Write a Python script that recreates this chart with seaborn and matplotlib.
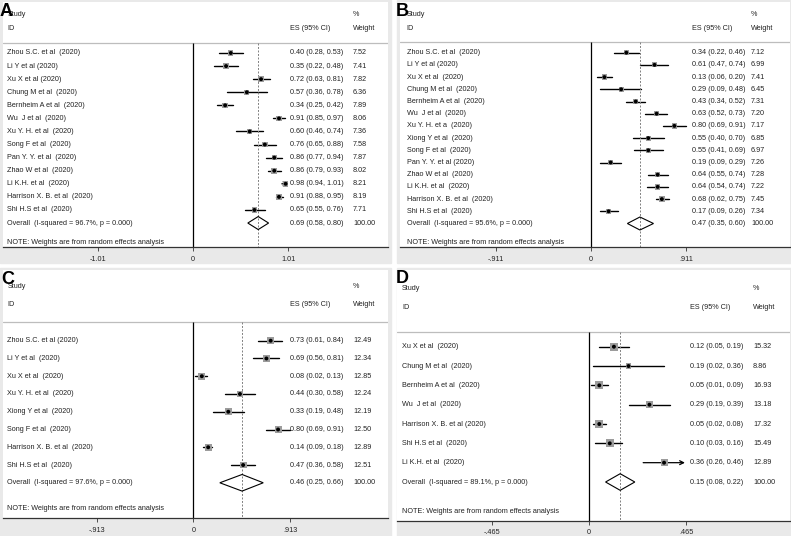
import numpy as np
import pandas as pd
import matplotlib
matplotlib.use("Agg")
import matplotlib.pyplot as plt
import matplotlib.transforms as mtransforms
from matplotlib.patches import Rectangle, Polygon
import seaborn as sns

# --- Panel A data ---
a_names = ["Zhou S.C. et al  (2020)", "Li Y et al (2020)", "Xu X et al (2020)",
           "Chung M et al  (2020)", "Bernheim A et al  (2020)", "Wu  J et al  (2020)",
           "Xu Y. H. et al  (2020)", "Song F et al  (2020)", "Pan Y. Y. et al  (2020)",
           "Zhao W et al  (2020)", "Li K.H. et al  (2020)", "Harrison X. B. et al  (2020)",
           "Shi H.S et al  (2020)"]
a_es = [0.40, 0.35, 0.72, 0.57, 0.34, 0.91, 0.60, 0.76, 0.86, 0.86, 0.98, 0.91, 0.65]
a_lo = [0.28, 0.22, 0.63, 0.36, 0.25, 0.85, 0.46, 0.65, 0.77, 0.79, 0.94, 0.88, 0.55]
a_hi = [0.53, 0.48, 0.81, 0.78, 0.42, 0.97, 0.74, 0.88, 0.94, 0.93, 1.01, 0.95, 0.76]
a_wt = [7.52, 7.41, 7.82, 6.36, 7.89, 8.06, 7.36, 7.58, 7.87, 8.02, 8.21, 8.19, 7.71]
a_arrow = [False] * 10 + [True, False, False]
a_overall = (0.69, 0.58, 0.80)
a_i2 = "96.7%"
a_ticks = ["-1.01", "0", "1.01"]
a_tick = 1.01

# --- Panel B data ---
b_names = ["Zhou S.C. et al  (2020)", "Li Y et al (2020)", "Xu X et al  (2020)",
           "Chung M et al  (2020)", "Bernheim A et al  (2020)", "Wu  J et al  (2020)",
           "Xu Y. H. et a  (2020)", "Xiong Y et al  (2020)", "Song F et al  (2020)",
           "Pan Y. Y. et al (2020)", "Zhao W et al  (2020)", "Li K.H. et al  (2020)",
           "Harrison X. B. et al  (2020)", "Shi H.S et al  (2020)"]
b_es = [0.34, 0.61, 0.13, 0.29, 0.43, 0.63, 0.80, 0.55, 0.55, 0.19, 0.64, 0.64, 0.68, 0.17]
b_lo = [0.22, 0.47, 0.06, 0.09, 0.34, 0.52, 0.69, 0.40, 0.41, 0.09, 0.55, 0.54, 0.62, 0.09]
b_hi = [0.46, 0.74, 0.20, 0.48, 0.52, 0.73, 0.91, 0.70, 0.69, 0.29, 0.74, 0.74, 0.75, 0.26]
b_wt = [7.12, 6.99, 7.41, 6.45, 7.31, 7.20, 7.17, 6.85, 6.97, 7.26, 7.28, 7.22, 7.45, 7.34]
b_arrow = [False] * 14
b_overall = (0.47, 0.35, 0.60)
b_i2 = "95.6%"
b_ticks = ["-.911", "0", ".911"]
b_tick = 0.911

# --- Panel C data ---
c_names = ["Zhou S.C. et al (2020)", "Li Y et al  (2020)", "Xu X et al  (2020)",
           "Xu Y. H. et al  (2020)", "Xiong Y et al  (2020)", "Song F et al  (2020)",
           "Harrison X. B. et al  (2020)", "Shi H.S et al  (2020)"]
c_es = [0.73, 0.69, 0.08, 0.44, 0.33, 0.80, 0.14, 0.47]
c_lo = [0.61, 0.56, 0.02, 0.30, 0.19, 0.69, 0.09, 0.36]
c_hi = [0.84, 0.81, 0.13, 0.58, 0.48, 0.91, 0.18, 0.58]
c_wt = [12.49, 12.34, 12.85, 12.24, 12.19, 12.50, 12.89, 12.51]
c_arrow = [False] * 8
c_overall = (0.46, 0.25, 0.66)
c_i2 = "97.6%"
c_ticks = ["-.913", "0", ".913"]
c_tick = 0.913

# --- Panel D data ---
d_names = ["Xu X et al  (2020)", "Chung M et al  (2020)", "Bernheim A et al  (2020)",
           "Wu  J et al  (2020)", "Harrison X. B. et al (2020)", "Shi H.S et al  (2020)",
           "Li K.H. et al  (2020)"]
d_es = [0.12, 0.19, 0.05, 0.29, 0.05, 0.10, 0.36]
d_lo = [0.05, 0.02, 0.01, 0.19, 0.02, 0.03, 0.26]
d_hi = [0.19, 0.36, 0.09, 0.39, 0.08, 0.16, 0.46]
d_wt = [15.32, 8.86, 16.93, 13.18, 17.32, 15.49, 12.89]
d_arrow = [False] * 6 + [True]
d_overall = (0.15, 0.08, 0.22)
d_i2 = "89.1%"
d_ticks = ["-.465", "0", ".465"]
d_tick = 0.465

W, H = 791, 536
FS = 5.2
TXT = "#222222"
BG = "#e9e9e9"

sns.set_theme(style="white")
plt.rcParams['font.family'] = ['Liberation Sans', 'DejaVu Sans']

fig = plt.figure(figsize=(W / 100, H / 100), dpi=100)
fig.patch.set_facecolor("white")


def draw_panel(letter, names, es, lo, hi, wt, arrow, overall, i2, ticks, tick, g):
    # grey graph region
    x0, y0, x1, y1 = g["panel"]
    fig.patches.append(Rectangle((x0 / W, 1 - y1 / H), (x1 - x0) / W, (y1 - y0) / H,
                                 transform=fig.transFigure, color=BG, zorder=-10))
    px0, py0, px1, py1 = g["plot"]
    ax = fig.add_axes([px0 / W, 1 - py1 / H, (px1 - px0) / W, (py1 - py0) / H])
    ax.set_facecolor("white")

    row = lambda p: (p - g["row0"]) / g["sp"]
    fx = lambda p: (p - px0) / (px1 - px0)
    tr = mtransforms.blended_transform_factory(ax.transAxes, ax.transData)

    n = len(names)
    df = pd.DataFrame({"row": np.arange(n), "es": es, "lo": lo, "hi": hi, "wt": wt})

    # CI lines
    for r, l, h, ar in zip(df.row, df.lo, df.hi, arrow):
        if ar:
            ax.annotate("", xy=(h, r), xytext=(l, r),
                        arrowprops=dict(arrowstyle="->", lw=0.9, color="black",
                                        shrinkA=0, shrinkB=0, mutation_scale=7))
        else:
            ax.plot([l, h], [r, r], color="black", lw=1.0, zorder=2)

    # weight boxes and point estimates
    sns.scatterplot(data=df, x="es", y="row", size="wt", size_norm=(0, 20),
                    sizes=(0, g["box"]), marker="s", color="#9c9c9c",
                    edgecolor="none", legend=False, ax=ax, zorder=3)
    sns.scatterplot(data=df, x="es", y="row", marker="o", color="black", s=8,
                    edgecolor="none", legend=False, ax=ax, zorder=4)

    # overall diamond
    oe, ol, oh = overall
    hh = g["dh"] / g["sp"]
    ax.add_patch(Polygon([(ol, n), (oe, n - hh), (oh, n), (oe, n + hh)], closed=True,
                         fill=False, edgecolor="black", lw=0.8, zorder=3))

    # reference lines
    sep = row(g["sep"])
    bot = row(py1)
    ax.axhline(sep, color="#bdbdbd", lw=0.9)
    ax.vlines(0, sep, bot, color="black", lw=0.9)
    ax.vlines(oe, sep, bot, color="#808080", lw=0.7, linestyles=(0, (2, 1.6)))

    # text columns
    kw = dict(transform=tr, fontsize=FS, color=TXT, va="center", ha="left")
    ax.text(fx(g["name_x"]), row(g["study"]), "Study", **kw)
    ax.text(fx(g["name_x"]), row(g["id"]), "ID", **kw)
    ax.text(fx(g["es_x"]), row(g["id"]), "ES (95% CI)", **kw)
    ax.text(fx(g["wt_x"]), row(g["study"]), "%", **kw)
    ax.text(fx(g["wt_x"]), row(g["id"]), "Weight", **kw)
    for i in range(n):
        ax.text(fx(g["name_x"]), i, names[i], **kw)
        ax.text(fx(g["es_x"]), i, f"{es[i]:.2f} ({lo[i]:.2f}, {hi[i]:.2f})", **kw)
        ax.text(fx(g["wt_x"]), i, f"{wt[i]:.2f}", **kw)
    ax.text(fx(g["name_x"]), n, f"Overall  (I-squared = {i2}, p = 0.000)", **kw)
    ax.text(fx(g["es_x"]), n, f"{oe:.2f} ({ol:.2f}, {oh:.2f})", **kw)
    ax.text(fx(g["wt_x"]), n, "100.00", **kw)
    ax.text(fx(g["name_x"]), row(g["note"]), "NOTE: Weights are from random effects analysis", **kw)

    # scales
    ax.set_xlim((px0 - g["zero"]) / g["k"], (px1 - g["zero"]) / g["k"])
    ax.set_ylim(bot, row(py0))
    ax.set_xticks([-tick, 0, tick])
    ax.set_xticklabels(ticks)
    ax.set_yticks([])
    ax.set_xlabel("")
    ax.set_ylabel("")
    for s in ["top", "left", "right"]:
        ax.spines[s].set_visible(False)
    ax.spines["bottom"].set_color("#333333")
    ax.spines["bottom"].set_linewidth(0.9)
    ax.tick_params(axis="x", direction="out", length=3, width=0.6, color="#333333",
                   labelsize=FS, labelcolor=TXT, pad=3, bottom=True)

    fig.text(g["letter"][0] / W, 1 - g["letter"][1] / H, letter, fontsize=13,
             fontweight="bold", color="black", ha="left", va="baseline")


geo_a = dict(panel=(0, 0, 391, 263), plot=(3, 2, 388, 247.3), zero=193, k=94.5,
             row0=53, sp=13.08, study=15, id=28, sep=43, note=242.7,
             name_x=7.3, es_x=290, wt_x=353, box=40, dh=6.5, letter=(0, 15.5))
geo_b = dict(panel=(397, 0, 791, 263), plot=(400, 2, 790, 247.3), zero=590.85, k=104.4,
             row0=52.7, sp=12.2, study=15, id=28, sep=42, note=243,
             name_x=406.7, es_x=691.7, wt_x=751, box=40, dh=6.5, letter=(396, 15.5))
geo_c = dict(panel=(0, 268, 391, 536), plot=(3, 270, 388, 518.3), zero=193.35, k=105.9,
             row0=340.7, sp=17.76, study=286, id=304, sep=322, note=508.3,
             name_x=7.3, es_x=290, wt_x=353, box=40, dh=8.3, letter=(1, 284.5))
geo_d = dict(panel=(397, 268, 791, 536), plot=(397, 270, 790, 520.7), zero=588.85, k=208.9,
             row0=346.7, sp=19.33, study=289, id=307.7, sep=332, note=511.7,
             name_x=402, es_x=690, wt_x=753, box=40, dh=8.3, letter=(396, 283))

draw_panel("A", a_names, a_es, a_lo, a_hi, a_wt, a_arrow, a_overall, a_i2, a_ticks, a_tick, geo_a)
draw_panel("B", b_names, b_es, b_lo, b_hi, b_wt, b_arrow, b_overall, b_i2, b_ticks, b_tick, geo_b)
draw_panel("C", c_names, c_es, c_lo, c_hi, c_wt, c_arrow, c_overall, c_i2, c_ticks, c_tick, geo_c)
draw_panel("D", d_names, d_es, d_lo, d_hi, d_wt, d_arrow, d_overall, d_i2, d_ticks, d_tick, geo_d)

fig.savefig("out.png", dpi=100, facecolor="white")
